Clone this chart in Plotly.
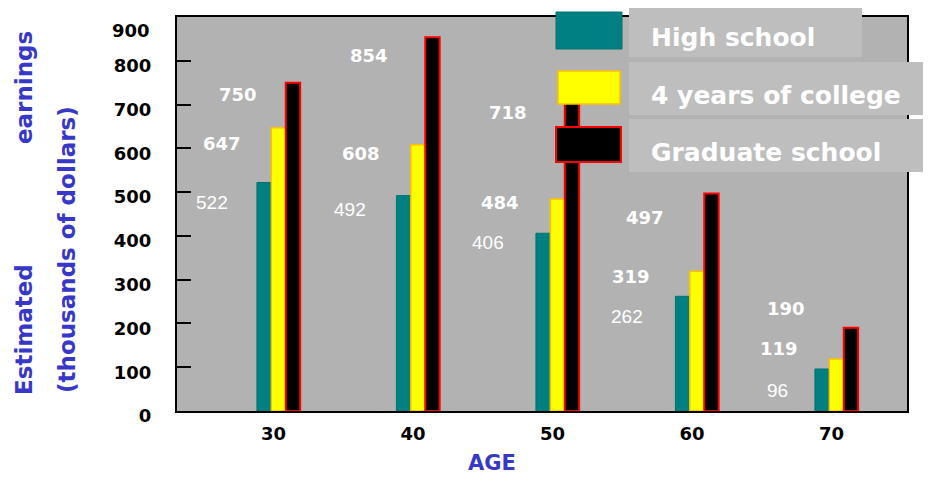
import plotly.graph_objects as go

# ---------------- data ----------------
ages = ["30", "40", "50", "60", "70"]
series_names = ["High school", "4 years of college", "Graduate school"]
high_school = [522, 492, 406, 262, 96]
college_4yr = [647, 608, 484, 319, 119]
graduate = [750, 854, 718, 497, 190]
y_ticks = [0, 100, 200, 300, 400, 500, 600, 700, 800, 900]

# ---------------- styling / layout ----------------
OFF = 8  # page body margin in the browser
W, H = 931, 479
# target plot area on screen: x 177..907, y 17..411
SL, SR, ST, SB = 177, 907, 17, 411
ML, MT = SL - OFF, ST - OFF
MR = W + OFF - SR
MB = H + OFF - SB
PW, PH = SR - SL, SB - ST

def px(x):
    return (x - SL) / PW

def py(y):
    return (SB - y) / PH

fills = ["#008080", "#FFFF00", "#000000"]
lines = ["#007373", "#FFC000", "#FF0000"]
line_w = [1, 1.5, 2]
BLUE = "#3838C8"
FONT = "DejaVu Sans"
TICKFONT = dict(family=FONT, size=18, color="black", weight="bold")

values = [high_school, college_4yr, graduate]

fig = go.Figure()
for name, vals, fc, lc, lw in zip(series_names, values, fills, lines, line_w):
    fig.add_trace(go.Bar(
        x=ages, y=vals, name=name,
        marker=dict(color=fc, line=dict(color=lc, width=lw)),
        showlegend=False, hoverinfo="x+y+name",
    ))

# data-label placement (category offset, y in data units) per series per age
label_dx = [
    [-0.48, -0.487, -0.498, -0.502, -0.426],
    [-0.405, -0.409, -0.412, -0.473, -0.412],
    [-0.29, -0.351, -0.355, -0.373, -0.362],
]
label_y = [
    [477, 461, 384, 217, 46],
    [610, 589, 477, 308, 142],
    [722, 813, 683, 441, 235],
]
annotations = []
for s, vals in enumerate(values):
    for i, v in enumerate(vals):
        bold = s > 0
        annotations.append(dict(
            x=i + label_dx[s][i], y=label_y[s][i], xref="x", yref="y",
            text=str(v), showarrow=False,
            xanchor="center", yanchor="middle",
            font=dict(family=FONT if bold else "Liberation Sans",
                      size=18 if bold else 19, color="white",
                      weight="bold" if bold else "normal"),
        ))

# top tick label sits lower than its tick in the original
tick_text = [str(t) for t in y_ticks]
top_label = tick_text[-1]
tick_text[-1] = ""
annotations.append(dict(
    x=px(152), y=py(30), xref="paper", yref="paper", text=top_label,
    showarrow=False, xanchor="right", yanchor="middle", font=TICKFONT))

# y-axis title pieces
annotations += [
    dict(x=px(24), y=py(330), xref="paper", yref="paper", text="Estimated",
         textangle=-90, showarrow=False, xanchor="center", yanchor="middle",
         font=dict(family=FONT, size=23, color=BLUE, weight="bold")),
    dict(x=px(24), y=py(88), xref="paper", yref="paper", text="earnings",
         textangle=-90, showarrow=False, xanchor="center", yanchor="middle",
         font=dict(family=FONT, size=23, color=BLUE, weight="bold")),
    dict(x=px(67), y=py(250), xref="paper", yref="paper", text="(thousands of dollars)",
         textangle=-90, showarrow=False, xanchor="center", yanchor="middle",
         font=dict(family=FONT, size=23, color=BLUE, weight="bold")),
    dict(x=px(492), y=py(463), xref="paper", yref="paper", text="AGE",
         showarrow=False, xanchor="center", yanchor="middle",
         font=dict(family=FONT, size=21, color=BLUE, weight="bold")),
]

# custom legend
shapes = []
swatches = [(556, 12, 622, 49), (558, 71, 620, 104), (556, 127, 621, 162)]
boxes = [(629, 5, 862, 57), (629, 62, 931, 115), (629, 119, 926, 172)]
text_y = [38, 95, 152]
for k, name in enumerate(series_names):
    bx0, by0, bx1, by1 = boxes[k]
    shapes.append(dict(type="rect", xref="paper", yref="paper", layer="above",
                       x0=px(bx0), x1=px(bx1), y0=py(by1), y1=py(by0),
                       fillcolor="#BEBEBE", line=dict(width=0)))
    sx0, sy0, sx1, sy1 = swatches[k]
    shapes.append(dict(type="rect", xref="paper", yref="paper", layer="above",
                       x0=px(sx0), x1=px(sx1), y0=py(sy1), y1=py(sy0),
                       fillcolor=fills[k], line=dict(color=lines[k], width=line_w[k])))
    annotations.append(dict(
        x=px(649), y=py(text_y[k]), xref="paper", yref="paper", text=name,
        showarrow=False, xanchor="left", yanchor="middle",
        font=dict(family=FONT, size=25, color="white", weight="bold"),
    ))

fig.update_layout(
    width=W, height=H, autosize=False,
    margin=dict(l=ML, r=MR, t=MT, b=MB, pad=0, autoexpand=False),
    paper_bgcolor="white", plot_bgcolor="#B2B2B2",
    barmode="group", bargap=0.69, bargroupgap=0,
    annotations=annotations, shapes=shapes,
    showlegend=False,
    xaxis=dict(
        type="category", range=[-0.728, 4.505], automargin=False,
        showgrid=False, zeroline=False,
        showline=True, linecolor="black", linewidth=2, mirror=True,
        ticks="", ticklabelstandoff=5, ticklabelshift=-5,
        tickfont=TICKFONT,
    ),
    yaxis=dict(
        range=[0, 900], tickvals=y_ticks, ticktext=tick_text, automargin=False,
        showgrid=False, zeroline=False,
        showline=True, linecolor="black", linewidth=2, mirror=True,
        ticks="inside", ticklen=14, tickwidth=2, tickcolor="black",
        ticklabelstandoff=20, ticklabelshift=5,
        tickfont=TICKFONT,
    ),
)

fig.write_html("out.html")
